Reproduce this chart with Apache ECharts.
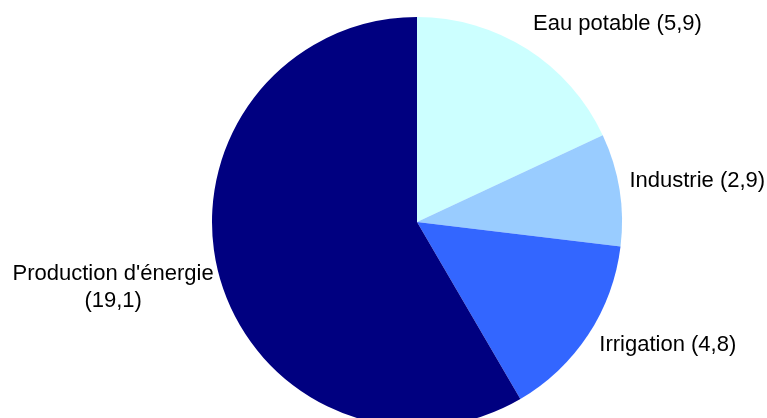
<!DOCTYPE html>
<html>
<head>
<meta charset="utf-8">
<script src="https://cdn.jsdelivr.net/npm/echarts@6/dist/echarts.min.js"></script>
<style>html,body{margin:0;padding:0;background:#fff;}#c{width:767px;height:418px;}</style>
</head>
<body>
<div id="c"></div>
<script>
var categories = ['Eau potable', 'Industrie', 'Irrigation', "Production d'énergie"];
var values = [5.9, 2.9, 4.8, 19.1];
var valueLabels = ['5,9', '2,9', '4,8', '19,1'];

var colors = ['#CCFFFF', '#99CCFF', '#3366FF', '#000080'];
var labelShift = [[1, -25], [5, -9], [6, 10], [0, 12]];

var chart = echarts.init(document.getElementById('c'));
var data = categories.map(function (c, i) {
  var item = { name: c, value: values[i], itemStyle: { color: colors[i] } };
  if (i === 3) {
    item.label = {
      formatter: '{a|' + c + '}\n{a|(' + valueLabels[i] + ')}',
      rich: { a: { width: 202, align: 'center', fontSize: 22, lineHeight: 27, color: '#000', fontFamily: 'Liberation Sans, Arial, sans-serif' } }
    };
  }
  return item;
});
chart.setOption({
  animation: false,
  backgroundColor: '#fff',
  series: [{
    type: 'pie',
    center: [417, 222],
    radius: 205,
    startAngle: 90,
    clockwise: true,
    avoidLabelOverlap: false,
    itemStyle: { borderWidth: 0 },
    label: {
      show: true,
      position: 'outside',
      fontSize: 22,
      lineHeight: 27,
      color: '#000',
      fontFamily: 'Liberation Sans, Arial, sans-serif',
      formatter: function (p) { return p.name + ' (' + valueLabels[p.dataIndex] + ')'; }
    },
    labelLine: { show: false, length: 0, length2: 0 },
    labelLayout: function (p) {
      return { dx: labelShift[p.dataIndex][0], dy: labelShift[p.dataIndex][1] };
    },
    emphasis: { disabled: true },
    data: data
  }]
});
</script>
</body>
</html>
